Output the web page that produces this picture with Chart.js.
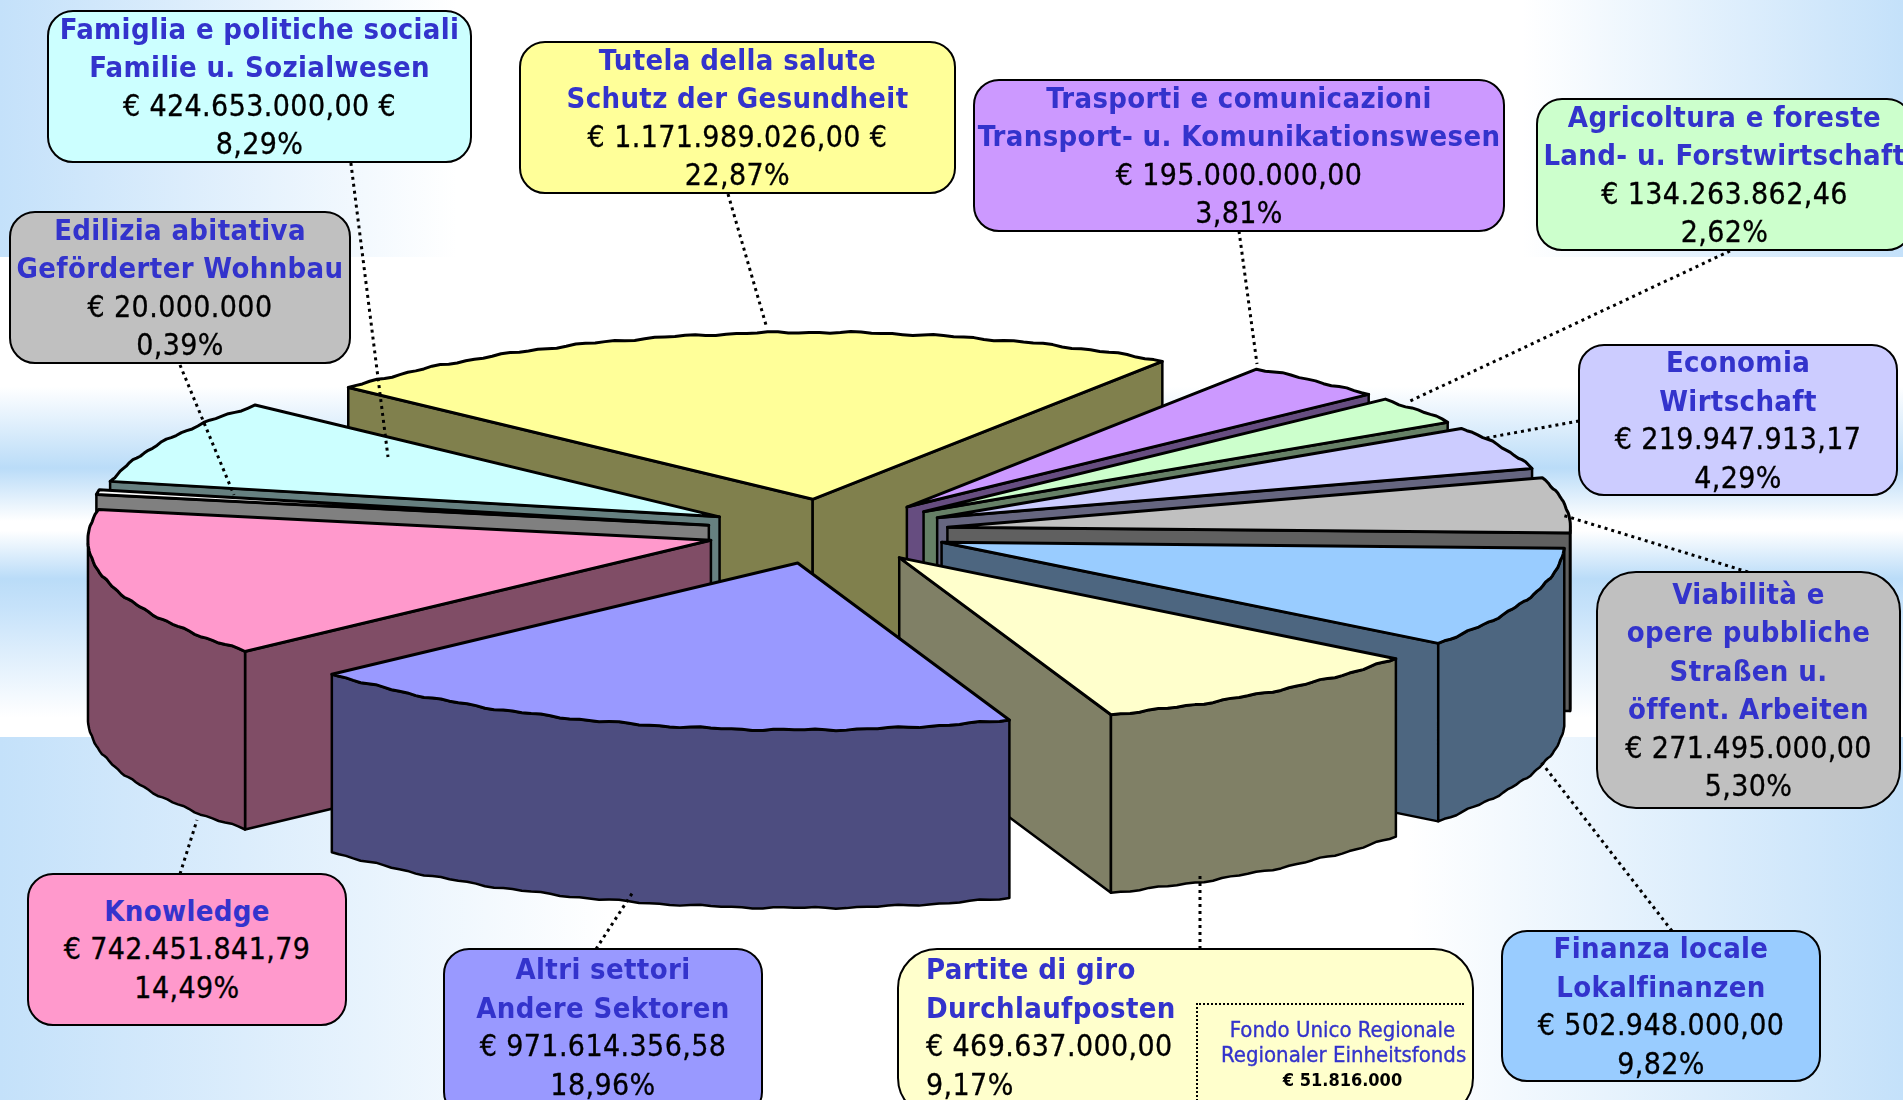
<!DOCTYPE html>
<html>
<head>
<meta charset="utf-8">
<title>Bilancio</title>
<script src="https://cdn.jsdelivr.net/npm/chart.js@4"></script>
<style>
    html, body { margin: 0; padding: 0; width: 1903px; height: 1100px; overflow: hidden; background: #fff; }
    #page { position: relative; width: 1903px; height: 1100px; overflow: hidden; }
    .band { position: absolute; left: 0; width: 1903px; }
    #bandTop { top: 0; height: 257px; background: linear-gradient(90deg, #c4e1fa 0%, #ffffff 24%, #ffffff 80%, #c4e1fa 100%); }
    #bandMid { top: 257px; height: 480px; background: linear-gradient(180deg, #ffffff 0%, #ffffff 27%, #badcf8 44%, #ffffff 55%, #ffffff 57%, #badcf8 67%, #c6e2fa 73%, #ffffff 96%); }
    #bandBot { top: 737px; height: 363px; background: linear-gradient(90deg, #c4e1fa 0%, #ffffff 32%, #ffffff 74%, #c4e1fa 100%); }
    canvas { position: absolute; left: 0; top: 0; }
    .box {
        position: absolute; box-sizing: border-box; border: 2px solid #000; border-radius: 26px;
        display: flex; flex-direction: column; justify-content: center; align-items: center;
        font: 30px/38.5px "DejaVu Sans Condensed", "DejaVu Sans", sans-serif; color: #000; white-space: nowrap;
        letter-spacing: 0.4px; -webkit-text-stroke: 0.3px #000;
    }
    .box b { color: #3333cc; font-weight: bold; font-size: 29px; letter-spacing: 0.35px; -webkit-text-stroke: 0; }
    .box.left { align-items: flex-start; padding-left: 27px; }
    #fondo {
        position: absolute; left: 1196px; top: 1003px; width: 268px; height: 110px; box-sizing: border-box;
        border-left: 2px dotted #000; border-top: 2px dotted #000; text-align: center; padding: 12px 0 0 23px;
        font: 22px/25px "DejaVu Sans Condensed", "DejaVu Sans", sans-serif; color: #3333cc; white-space: nowrap;
        -webkit-text-stroke: 0.35px #3333cc;
    }
    #fondo span { display: block; }
    #fondo .sum { color: #000; font-weight: bold; font-size: 18px; -webkit-text-stroke: 0; }
</style>
</head>
<body>
<div id="page">
    <div class="band" id="bandTop"></div>
    <div class="band" id="bandMid"></div>
    <div class="band" id="bandBot"></div>
    <canvas id="pie" width="1903" height="1100"></canvas>
</div>
<script>
// --- DATA ---
const titles = [
    ['Tutela della salute', 'Schutz der Gesundheit'],
    ['Trasporti e comunicazioni', 'Transport- u. Komunikationswesen'],
    ['Agricoltura e foreste', 'Land- u. Forstwirtschaft'],
    ['Economia', 'Wirtschaft'],
    ['Viabilità e', 'opere pubbliche', 'Straßen u.', 'öffent. Arbeiten'],
    ['Finanza locale', 'Lokalfinanzen'],
    ['Partite di giro', 'Durchlaufposten'],
    ['Altri settori', 'Andere Sektoren'],
    ['Knowledge'],
    ['Edilizia abitativa', 'Geförderter Wohnbau'],
    ['Famiglia e politiche sociali', 'Familie u. Sozialwesen']
];
const amounts = [1171989026.00, 195000000.00, 134263862.46, 219947913.17, 271495000.00, 502948000.00,
    469637000.00, 971614356.58, 742451841.79, 20000000, 424653000.00];
const amountLabels = ['€ 1.171.989.026,00 €', '€ 195.000.000,00', '€ 134.263.862,46', '€ 219.947.913,17', '€ 271.495.000,00',
    '€ 502.948.000,00', '€ 469.637.000,00', '€ 971.614.356,58', '€ 742.451.841,79', '€ 20.000.000', '€ 424.653.000,00 €'];
const percentLabels = ['22,87%', '3,81%', '2,62%', '4,29%', '5,30%', '9,82%', '9,17%', '18,96%', '14,49%', '0,39%', '8,29%'];

// --- STYLES ---
const topColors = ['#FFFF99', '#CC99FF', '#CCFFCC', '#CCCCFF', '#C0C0C0', '#99CCFF', '#FFFFCC', '#9999FF', '#FF99CC', '#FFFFFF', '#CCFFFF'];
const wallColors = ['#80804D', '#664D80', '#668066', '#666680', '#606060', '#4D6680', '#808066', '#4D4D80', '#804D66', '#808080', '#668080'];
const boxColors = ['#FFFF99', '#CC99FF', '#CCFFCC', '#CCCCFF', '#C0C0C0', '#99CCFF', '#FFFFCC', '#9999FF', '#FF99CC', '#C0C0C0', '#CCFFFF'];

// left, top, width, height, radius of each label box
const boxes = [
    [519, 41, 437, 153, 26], [973, 79, 532, 153, 26], [1536, 98, 377, 153, 26], [1578, 344, 320, 152, 26],
    [1596, 571, 305, 238, 40], [1501, 930, 320, 152, 26], [897, 948, 577, 170, 40], [443, 948, 320, 170, 26],
    [27, 873, 320, 153, 26], [9, 211, 342, 153, 26], [47, 10, 425, 153, 26]
];
// dotted leaders: x1, y1, x2, y2
const leaders = [
    [728, 194, 766, 325], [1239, 231, 1257, 364], [1730, 251, 1408, 402], [1579, 421, 1486, 438],
    [1748, 572, 1562, 515], [1672, 931, 1541, 762], [1200, 949, 1200, 874], [596, 949, 633, 892],
    [180, 874, 197, 820], [180, 365, 234, 495], [350, 156, 388, 457]
];

const TILT = 0.268;      // ellipse height / width
const EXPLODE = 121;     // how far each slice is pulled out
const DEPTH = 178;       // wall height

// --- 3D PIE ---
function drawFace(ctx, points, color, lineWidth) {
    ctx.beginPath();
    points.forEach((p, i) => i ? ctx.lineTo(p[0], p[1]) : ctx.moveTo(p[0], p[1]));
    ctx.closePath();
    if (color) {
        ctx.fillStyle = color;
        ctx.fill();
    }
    ctx.lineWidth = lineWidth;
    ctx.stroke();
}

function drawSlice(ctx, arc, i) {
    const s = arc.startAngle, e = arc.endAngle, R = arc.outerRadius;
    const mid = (s + e) / 2;
    const ax = arc.x + EXPLODE * Math.cos(mid);
    const ay = arc.y + EXPLODE * Math.sin(mid) * TILT;
    // the source picture has a slightly rough rim
    const rim = t => [ax + R * Math.cos(t), ay + R * Math.sin(t) * TILT + 0.6 * Math.sin(t * 43) + 0.6 * Math.sin(t * 97)];
    const wall = wallColors[i];
    const steps = Math.max(4, Math.round((e - s) * 60));

    ctx.strokeStyle = '#000';
    ctx.lineJoin = 'round';

    // flat side walls, only those that face the viewer
    [[s, -Math.cos(s)], [e, Math.cos(e)]].forEach(([t, facing]) => {
        if (facing <= 0) return;
        const p = rim(t);
        drawFace(ctx, [[ax, ay], p, [p[0], p[1] + DEPTH], [ax, ay + DEPTH]], wall, 2.5);
    });

    // curved outer wall, the part with sin > 0
    const front = [];
    const edge = [];
    for (let k = 0; k <= steps; k++) {
        const t = s + (e - s) * k / steps;
        edge.push(rim(t));
        if (Math.sin(t) >= 0) front.push(rim(t));
    }
    if (front.length > 1) {
        const lower = front.map(p => [p[0], p[1] + DEPTH]).reverse();
        drawFace(ctx, front.concat(lower), wall, 2.5);
    }

    // top face: the chart's own arc, squashed
    ctx.save();
    ctx.translate(ax, ay);
    ctx.scale(1, TILT);
    ctx.translate(-arc.x, -arc.y);
    arc.draw(ctx);
    ctx.restore();

    drawFace(ctx, [[ax, ay]].concat(edge), topColors[i], 3);
}

const tiltedPie = {
    id: 'tiltedPie',
    beforeDatasetsDraw(chart) {
        const ctx = chart.ctx;
        const arcs = chart.getDatasetMeta(0).data;
        // back to front
        const order = arcs.map((arc, i) => i).sort((a, b) =>
            Math.sin((arcs[a].startAngle + arcs[a].endAngle) / 2) - Math.sin((arcs[b].startAngle + arcs[b].endAngle) / 2));
        order.forEach(i => drawSlice(ctx, arcs[i], i));
        return false;
    },
    afterDraw(chart) {
        const ctx = chart.ctx;
        ctx.save();
        ctx.strokeStyle = '#000';
        ctx.lineWidth = 3;
        ctx.setLineDash([3, 4]);
        leaders.forEach(l => {
            ctx.beginPath();
            ctx.moveTo(l[0], l[1]);
            ctx.lineTo(l[2], l[3]);
            ctx.stroke();
        });
        ctx.restore();
    }
};

new Chart(document.getElementById('pie'), {
    type: 'pie',
    plugins: [tiltedPie],
    data: {
        labels: titles.map(t => t[0]),
        datasets: [{ data: amounts, backgroundColor: topColors, borderWidth: 0, radius: 623 }]
    },
    options: {
        responsive: false,
        animation: false,
        rotation: -48.2,
        layout: { padding: { right: 248, bottom: 37 } },
        plugins: { legend: { display: false }, tooltip: { enabled: false } }
    }
});

// --- LABEL BOXES ---
const page = document.getElementById('page');
titles.forEach((lines, i) => {
    const box = document.createElement('div');
    const b = boxes[i];
    box.className = 'box' + (i === 6 ? ' left' : '');
    box.style.cssText = `left:${b[0]}px;top:${b[1]}px;width:${b[2]}px;height:${b[3]}px;border-radius:${b[4]}px;background:${boxColors[i]};`;
    if (i === 6 || i === 7) box.style.justifyContent = 'flex-start';
    lines.forEach(line => {
        const el = document.createElement('b');
        el.textContent = line;
        box.appendChild(el);
    });
    [amountLabels[i], percentLabels[i]].forEach(text => {
        const el = document.createElement('span');
        el.textContent = text;
        box.appendChild(el);
    });
    page.appendChild(box);
});

const fondo = document.createElement('div');
fondo.id = 'fondo';
fondo.innerHTML = '<span>Fondo Unico Regionale</span><span>Regionaler Einheitsfonds</span><span class="sum">€ 51.816.000</span>';
page.appendChild(fondo);
</script>
</body>
</html>
